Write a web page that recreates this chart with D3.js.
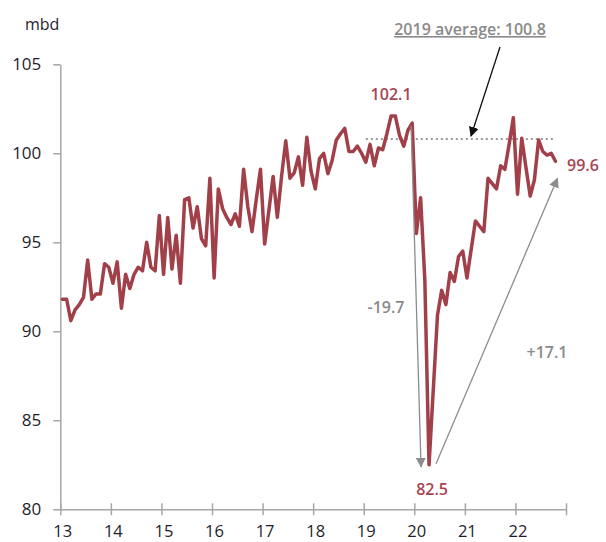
<!DOCTYPE html>
<html><head><meta charset="utf-8">
<script src="https://cdn.jsdelivr.net/npm/d3@7"></script>
<style>
html,body{margin:0;padding:0;background:#fff;}
svg{display:block;font-family:"Open Sans",sans-serif;}
</style></head>
<body>
<svg id="c" width="606" height="542"></svg>
<script>
// Monthly values, Jan 2013 - Oct 2022 (mbd)
const startYear = 13;
const values = [
  91.8, 91.8, 90.6, 91.2, 91.5, 91.9, 94.0, 91.8, 92.1, 92.1, 93.8, 93.6,
  92.7, 93.9, 91.3, 93.2, 92.4, 93.2, 93.6, 93.4, 95.0, 93.6, 93.4, 96.5,
  93.2, 96.4, 93.5, 95.4, 92.7, 97.4, 97.5, 95.8, 97.0, 95.2, 94.8, 98.6,
  93.0, 98.0, 96.9, 96.4, 96.0, 96.6, 95.9, 99.1, 97.0, 95.6, 97.4, 99.1,
  94.9, 96.8, 98.7, 96.4, 98.7, 100.7, 98.6, 98.9, 99.8, 98.2, 100.9, 99.0,
  98.0, 99.7, 100.0, 98.85, 99.6, 100.75, 101.1, 101.4, 100.1, 100.1, 100.4, 100.0,
  99.5, 100.5, 99.3, 100.3, 100.2, 101.1, 102.1, 102.1, 101.0, 100.4, 101.3, 101.7,
  95.5, 97.5, 92.9, 82.5, 86.7, 90.9, 92.3, 91.5, 93.3, 92.8, 94.2, 94.5,
  93.0, 94.6, 96.2, 95.9, 95.6, 98.6, 98.3, 98.0, 99.3, 99.1, 100.5, 102.0,
  97.7, 100.85, 99.2, 97.6, 98.5, 100.75, 100.1, 99.9, 100.0, 99.55
];
const xTicks = [13, 14, 15, 16, 17, 18, 19, 20, 21, 22, 23];
const xTickLabels = ["13", "14", "15", "16", "17", "18", "19", "20", "21", "22", ""];
const yTicks = [80, 85, 90, 95, 100, 105];
const unitLabel = "mbd";
const avg2019 = 100.8;
const avgLabel = "2019 average: 100.8";
const peakLabel = "102.1", troughLabel = "82.5", lastLabel = "99.6";
const dropLabel = "-19.7", riseLabel = "+17.1";

const data = values.map((v, i) => ({ t: startYear + (i + 0.5) / 12, v }));

const svg = d3.select("#c");
const x = d3.scaleLinear().domain([13, 23]).range([60.3, 566]);
const y = d3.scaleLinear().domain([80, 105]).range([509.3, 64.3]);

const axisCol = "#a6a6a6", textCol = "#1e1e2a", lineCol = "#a2404a", redTxt = "#a94552", grey = "#8a8a8a";

// defs: arrowheads
const defs = svg.append("defs");
function marker(id, col) {
  defs.append("marker").attr("id", id).attr("viewBox", "0 0 10 10")
    .attr("refX", 9).attr("refY", 5).attr("markerWidth", 10).attr("markerHeight", 10)
    .attr("markerUnits", "userSpaceOnUse").attr("orient", "auto")
    .append("path").attr("d", "M0,0 L10,5 L0,10 z").attr("fill", col);
}
marker("ab", "#111");
marker("ag", "#8c8c8c");

// Y axis
const yAxis = svg.append("g").attr("transform", `translate(${x(13)},0)`)
  .call(d3.axisLeft(y).tickValues(yTicks).tickSize(7).tickSizeOuter(0).tickPadding(12));
yAxis.select(".domain").attr("stroke", axisCol).attr("stroke-width", 1.5);
yAxis.selectAll(".tick line").attr("stroke", axisCol).attr("stroke-width", 1.5);
yAxis.selectAll(".tick text").attr("fill", textCol).attr("font-size", 17)
  .attr("font-family", "'Open Sans',sans-serif").attr("dy", "0.3em");

// X axis
const xAxis = svg.append("g").attr("transform", `translate(0,${y(80)})`)
  .call(d3.axisBottom(x).tickValues(xTicks).tickSize(6).tickSizeOuter(0)
    .tickFormat((d, i) => xTickLabels[i]));
xAxis.select(".domain").attr("stroke", axisCol).attr("stroke-width", 1.5);
xAxis.selectAll(".tick line").attr("stroke", axisCol).attr("stroke-width", 1.5).attr("y1", -6).attr("y2", 6);
xAxis.selectAll(".tick text").attr("fill", textCol).attr("font-size", 16.5)
  .attr("font-family", "'Open Sans',sans-serif").attr("y", 28).attr("dy", 0).attr("dx", 2);

// unit label
svg.append("text").attr("x", 25).attr("y", 30).attr("fill", textCol)
  .attr("font-size", 16).text(unitLabel);

// 2019 average dotted line
svg.append("line").attr("x1", x(19 + 0.5 / 12)).attr("x2", x(22 + 9.5 / 12))
  .attr("y1", y(avg2019)).attr("y2", y(avg2019))
  .attr("stroke", "#999").attr("stroke-width", 2).attr("stroke-dasharray", "2,3");

// main line
svg.append("path").datum(data)
  .attr("d", d3.line().x(d => x(d.t)).y(d => y(d.v)))
  .attr("fill", "none").attr("stroke", lineCol).attr("stroke-width", 3.5)
  .attr("stroke-linejoin", "round").attr("stroke-linecap", "round");

// find key points
const iPeak = d3.maxIndex(values.slice(0, 86));
const iTrough = d3.minIndex(values);
const iLast = values.length - 1;
const pk = data[iPeak], tr = data[iTrough], ls = data[iLast];
const iDec19 = 83;

// gray arrows
svg.append("line")
  .attr("x1", x(data[iDec19].t) - 1).attr("y1", y(data[iDec19].v) + 3)
  .attr("x2", x(tr.t) - 8).attr("y2", y(tr.v) + 2)
  .attr("stroke", "#8c8c8c").attr("stroke-width", 1.3).attr("marker-end", "url(#ag)");
svg.append("line")
  .attr("x1", x(tr.t) + 7).attr("y1", y(tr.v) - 1)
  .attr("x2", x(ls.t) + 2).attr("y2", y(ls.v) + 17)
  .attr("stroke", "#8c8c8c").attr("stroke-width", 1.3).attr("marker-end", "url(#ag)");

// black arrow to average line
svg.append("line").attr("x1", 500).attr("y1", 47)
  .attr("x2", 471).attr("y2", y(avg2019) - 3)
  .attr("stroke", "#111").attr("stroke-width", 1.3).attr("marker-end", "url(#ab)");

// labels
svg.append("text").attr("x", x(pk.t)).attr("y", 100).attr("text-anchor", "middle")
  .attr("fill", redTxt).attr("font-size", 16).attr("font-weight", 600).text(peakLabel);
svg.append("text").attr("x", x(tr.t) + 3).attr("y", 495).attr("text-anchor", "middle")
  .attr("fill", redTxt).attr("font-size", 16).attr("font-weight", 600).text(troughLabel);
svg.append("text").attr("x", 567).attr("y", 171).attr("text-anchor", "start")
  .attr("fill", redTxt).attr("font-size", 16).attr("font-weight", 600).text(lastLabel);
svg.append("text").attr("x", 386).attr("y", 313).attr("text-anchor", "middle")
  .attr("fill", grey).attr("font-size", 16).attr("font-weight", 600).text(dropLabel);
svg.append("text").attr("x", 547).attr("y", 358).attr("text-anchor", "middle")
  .attr("fill", grey).attr("font-size", 16).attr("font-weight", 600).text(riseLabel);
svg.append("text").attr("x", 470).attr("y", 35).attr("text-anchor", "middle")
  .attr("fill", grey).attr("font-size", 16).attr("font-weight", 600)
  .attr("text-decoration", "underline").text(avgLabel);
</script>
</body></html>
